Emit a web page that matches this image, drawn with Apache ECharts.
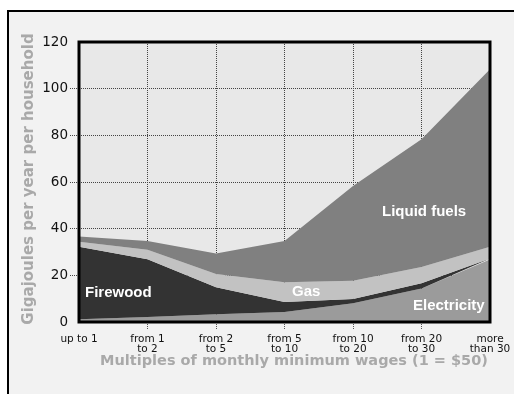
<!DOCTYPE html>
<html>
<head>
<meta charset="utf-8">
<script src="https://cdn.jsdelivr.net/npm/echarts@6/dist/echarts.min.js"></script>
<style>
html,body{margin:0;padding:0;background:#fff;overflow:hidden;width:514px;height:394px;}
#frame{position:absolute;left:7px;top:10px;width:600px;height:500px;border:2px solid #000;background:#f2f2f2;}
#chart{position:absolute;left:0;top:0;width:514px;height:394px;}
</style>
</head>
<body>
<div id="frame"></div>
<div id="chart"></div>
<script>
const categories = ['up to 1', 'from 1\nto 2', 'from 2\nto 5', 'from 5\nto 10', 'from 10\nto 20', 'from 20\nto 30', 'more\nthan 30'];
const electricity = [1.2, 2.1, 3.3, 4.3, 8.0, 14.4, 26.8];
const firewood = [31.1, 24.8, 11.6, 4.3, 1.9, 2.2, 0.4];
const gas = [2.1, 4.1, 5.7, 8.4, 7.8, 7.0, 5.1];
const liquidFuels = [2.2, 3.7, 8.8, 17.7, 40.6, 54.7, 76.0];
const yTicks = { min: 0, max: 120, interval: 20 };
const yTickMarks = [20, 40, 60, 80, 100];
const xTickMarks = [1, 2, 3, 4, 5];

const W = 514, H = 394;
const G = { left: 79, right: 24, top: 42, bottom: 72 };
const FONT = '"Liberation Sans", Arial, Helvetica, sans-serif';
const WIDE = '"DejaVu Sans", Verdana, sans-serif';

function areaSeries(name, data, color) {
  return {
    name: name, type: 'line', stack: 'total', data: data,
    symbol: 'none', lineStyle: { width: 0 }, areaStyle: { color: color, opacity: 1 },
    itemStyle: { color: color }, silent: true
  };
}

const chart = echarts.init(document.getElementById('chart'), null, { renderer: 'canvas' });
chart.setOption({
  animation: false,
  backgroundColor: 'transparent',
  textStyle: { fontFamily: FONT },
  grid: { left: G.left, right: G.right, top: G.top, bottom: G.bottom, show: true, backgroundColor: '#e8e8e8', borderWidth: 0 },
  xAxis: {
    type: 'category', data: categories, boundaryGap: false,
    axisLine: { show: false },
    axisTick: { show: true, customValues: xTickMarks, length: 7, lineStyle: { color: '#555', type: 'dotted' } },
    axisLabel: { color: '#111', fontSize: 10.5, lineHeight: 9.5, margin: 13, interval: 0, fontFamily: WIDE },
    splitLine: { show: true, lineStyle: { color: '#444', type: 'dotted', width: 1 } },
    name: 'Multiples of monthly minimum wages (1 = $50)', nameLocation: 'middle', nameGap: 31.5,
    nameMoveOverlap: false,
    nameTextStyle: { color: '#a9a9a9', fontSize: 14.5, fontWeight: 'bold', fontFamily: WIDE, padding: [0, 0, 0, 19] }
  },
  yAxis: {
    type: 'value', min: yTicks.min, max: yTicks.max, interval: yTicks.interval,
    axisLine: { show: false },
    axisTick: { show: true, customValues: yTickMarks, length: 9, lineStyle: { color: '#444', type: 'dotted' } },
    axisLabel: { color: '#111', fontSize: 13.5, margin: 11, fontFamily: WIDE },
    splitLine: { show: true, lineStyle: { color: '#444', type: 'dotted', width: 1 } },
    name: 'Gigajoules per year per household', nameLocation: 'middle', nameGap: 42,
    nameMoveOverlap: false,
    nameTextStyle: { color: '#a9a9a9', fontSize: 15, fontWeight: 'bold', fontFamily: WIDE, padding: [0, 0, 0, 6] }
  },
  series: [
    areaSeries('Electricity', electricity, '#9b9b9b'),
    areaSeries('Firewood', firewood, '#333333'),
    areaSeries('Gas', gas, '#c2c2c2'),
    areaSeries('Liquid fuels', liquidFuels, '#808080')
  ],
  graphic: [
    { type: 'rect', z: 100, silent: true,
      shape: { x: G.left, y: G.top, width: W - G.left - G.right, height: H - G.top - G.bottom },
      style: { fill: 'none', stroke: '#000', lineWidth: 3 } },
    { type: 'text', z: 101, left: 85, top: 285, style: { text: 'Firewood', fill: '#fff', font: 'bold 15px ' + FONT } },
    { type: 'text', z: 101, left: 292, top: 284, style: { text: 'Gas', fill: '#fff', font: 'bold 15px ' + FONT } },
    { type: 'text', z: 101, left: 382, top: 204, style: { text: 'Liquid fuels', fill: '#fff', font: 'bold 15px ' + FONT } },
    { type: 'text', z: 101, left: 413, top: 298, style: { text: 'Electricity', fill: '#fff', font: 'bold 15px ' + FONT } }
  ]
});
</script>
</body>
</html>
